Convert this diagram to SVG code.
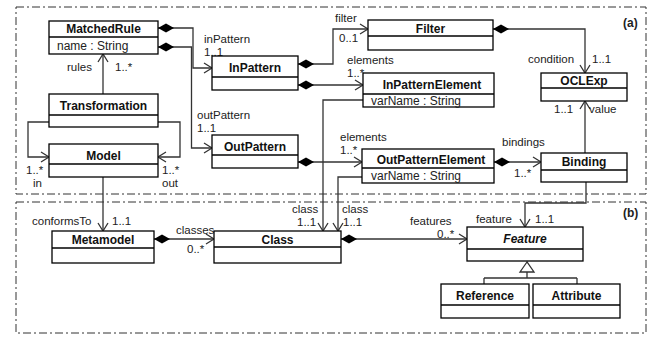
<svg xmlns="http://www.w3.org/2000/svg" width="660" height="339" viewBox="0 0 660 339">
<style>
text{font-family:"Liberation Sans",Arial,sans-serif;font-size:11.5px;fill:#222}
.h{font-size:12px;font-weight:bold;text-anchor:middle;fill:#111}
.a{font-size:12px}
.box{fill:#fff;stroke:#000;stroke-width:1.3}
.div{stroke:#000;stroke-width:1.3}
.frame{fill:none;stroke:#333;stroke-width:1;stroke-dasharray:8 3 2 3}
.c{fill:none;stroke:#333;stroke-width:1.3}
.dia{fill:#000}
.arr{fill:none;stroke:#333;stroke-width:1.3}
</style>
<defs>
<path id="dm" d="M0,0 L-8,-4.5 L-16,0 L-8,4.5 Z"/>
<path id="ah" d="M-8,-5 L0,0 L-8,5"/>
</defs>
<g id="frames">
<rect class="frame" x="16" y="7" width="630" height="187"/>
<rect class="frame" x="16" y="202" width="630" height="131"/>
<text x="623" y="27" style="font-weight:bold;font-size:12px">(a)</text>
<text x="623" y="217" style="font-weight:bold;font-size:12px">(b)</text>
</g>
<g id="connectors">
<!-- MatchedRule -> InPattern -->
<path class="c" d="M158,28 H193 V68 H211"/>
<use href="#dm" class="dia" transform="translate(158,28) rotate(180)"/>
<use href="#ah" class="arr" transform="translate(212,68)"/>
<text x="204" y="43">inPattern</text>
<text x="204" y="56">1..1</text>
<!-- MatchedRule -> OutPattern -->
<path class="c" d="M158,47 H191.5 V148 H211"/>
<use href="#dm" class="dia" transform="translate(158,47) rotate(180)"/>
<use href="#ah" class="arr" transform="translate(212,148)"/>
<text x="197" y="119">outPattern</text>
<text x="197" y="132">1..1</text>
<!-- Transformation -> MatchedRule -->
<path class="c" d="M103,94 V55"/>
<use href="#dm" class="dia" transform="translate(103,94) rotate(-90)"/>
<use href="#ah" class="arr" transform="translate(103,54) rotate(-90)"/>
<text x="67" y="71">rules</text>
<text x="115" y="71">1..*</text>
<!-- Transformation -> Model in/out -->
<path class="c" d="M49,122 H28 V157 H48"/>
<use href="#ah" class="arr" transform="translate(49,157)"/>
<text x="26" y="174">1..*</text>
<text x="33" y="187">in</text>
<path class="c" d="M158,122 H180 V157 H159"/>
<use href="#ah" class="arr" transform="translate(158,157) rotate(180)"/>
<text x="162" y="174">1..*</text>
<text x="162" y="187">out</text>
<!-- Model -> Metamodel -->
<path class="c" d="M103,177 V230"/>
<use href="#ah" class="arr" transform="translate(103,231) rotate(90)"/>
<text x="32" y="225">conformsTo</text>
<text x="112" y="225">1..1</text>
<!-- InPattern -> Filter -->
<path class="c" d="M298,64 H333 V29 H367"/>
<use href="#dm" class="dia" transform="translate(298,64) rotate(180)"/>
<use href="#ah" class="arr" transform="translate(368,29)"/>
<text x="335" y="22">filter</text>
<text x="339" y="42">0..1</text>
<!-- InPattern -> InPatternElement -->
<path class="c" d="M298,85 H362"/>
<use href="#dm" class="dia" transform="translate(298,85) rotate(180)"/>
<use href="#ah" class="arr" transform="translate(363,85)"/>
<text x="347" y="64">elements</text>
<text x="347" y="77">1..*</text>
<!-- OutPattern -> OutPatternElement -->
<path class="c" d="M298,162 H361"/>
<use href="#dm" class="dia" transform="translate(298,162) rotate(180)"/>
<use href="#ah" class="arr" transform="translate(362,162)"/>
<text x="340" y="141">elements</text>
<text x="340" y="154">1..*</text>
<!-- Filter -> OCLExp -->
<path class="c" d="M493,29 H585 V72"/>
<use href="#dm" class="dia" transform="translate(493,29) rotate(180)"/>
<use href="#ah" class="arr" transform="translate(585,73) rotate(90)"/>
<text x="528" y="63">condition</text>
<text x="592" y="63">1..1</text>
<!-- Binding -> OCLExp -->
<path class="c" d="M585,153 V102"/>
<use href="#dm" class="dia" transform="translate(585,153) rotate(-90)"/>
<use href="#ah" class="arr" transform="translate(585,101) rotate(-90)"/>
<text x="554" y="113">1..1</text>
<text x="589" y="113">value</text>
<!-- OutPatternElement -> Binding -->
<path class="c" d="M494,162 H540"/>
<use href="#dm" class="dia" transform="translate(494,162) rotate(180)"/>
<use href="#ah" class="arr" transform="translate(541,162)"/>
<text x="502" y="146">bindings</text>
<text x="514" y="177">1..*</text>
<!-- InPatternElement -> Class -->
<path class="c" d="M363,100 H323 V230"/>
<use href="#ah" class="arr" transform="translate(323,231) rotate(90)"/>
<text x="292" y="213">class</text>
<text x="297" y="226">1..1</text>
<!-- OutPatternElement -> Class -->
<path class="c" d="M362,177 H338 V230"/>
<use href="#ah" class="arr" transform="translate(338,231) rotate(90)"/>
<text x="342" y="213">class</text>
<text x="343" y="226">1..1</text>
<!-- Metamodel -> Class -->
<path class="c" d="M154,239 H213"/>
<use href="#dm" class="dia" transform="translate(154,239) rotate(180)"/>
<use href="#ah" class="arr" transform="translate(214,239)"/>
<text x="176" y="234">classes</text>
<text x="187" y="253">0..*</text>
<!-- Class -> Feature -->
<path class="c" d="M341,239 H466"/>
<use href="#dm" class="dia" transform="translate(341,239) rotate(180)"/>
<use href="#ah" class="arr" transform="translate(467,239)"/>
<text x="410" y="225">features</text>
<text x="437" y="238">0..*</text>
<!-- Binding -> Feature -->
<path class="c" d="M586,182 V203 H525 V226"/>
<use href="#ah" class="arr" transform="translate(525,227) rotate(90)"/>
<text x="476" y="223">feature</text>
<text x="535" y="223">1..1</text>
<!-- Generalization -->
<path class="c" d="M527,272 V278 M484,278 H577 M484,278 V284 M577,278 V284"/>
<path d="M527,262 L520,272 L534,272 Z" fill="#fff" stroke="#333" stroke-width="1.3"/>
</g>
<g id="MatchedRule">
<rect class="box" x="49" y="21" width="109" height="33"/>
<line class="div" x1="49" y1="37" x2="158" y2="37"/>
<text class="h" x="103.5" y="33">MatchedRule</text>
<text class="a" x="57" y="50">name : String</text>
</g>
<g id="Transformation">
<rect class="box" x="49" y="94" width="109" height="33"/>
<line class="div" x1="49" y1="115" x2="158" y2="115"/>
<text class="h" x="103.5" y="110">Transformation</text>
</g>
<g id="Model">
<rect class="box" x="49" y="144" width="109" height="33"/>
<line class="div" x1="49" y1="164" x2="158" y2="164"/>
<text class="h" x="103.5" y="160">Model</text>
</g>
<g id="InPattern">
<rect class="box" x="212" y="56" width="86" height="34"/>
<line class="div" x1="212" y1="77" x2="298" y2="77"/>
<text class="h" x="255" y="72">InPattern</text>
</g>
<g id="OutPattern">
<rect class="box" x="212" y="135" width="86" height="33"/>
<line class="div" x1="212" y1="155" x2="298" y2="155"/>
<text class="h" x="255" y="151">OutPattern</text>
</g>
<g id="Filter">
<rect class="box" x="368" y="20" width="125" height="30"/>
<line class="div" x1="368" y1="36" x2="493" y2="36"/>
<text class="h" x="430.5" y="33">Filter</text>
</g>
<g id="InPatternElement">
<rect class="box" x="363" y="73" width="131" height="34"/>
<line class="div" x1="363" y1="94" x2="494" y2="94"/>
<text class="h" x="432" y="89">InPatternElement</text>
<text class="a" x="371" y="105">varName : String</text>
</g>
<g id="OCLExp">
<rect class="box" x="541" y="73" width="86" height="28"/>
<line class="div" x1="541" y1="88" x2="627" y2="88"/>
<text class="h" x="584" y="85">OCLExp</text>
</g>
<g id="OutPatternElement">
<rect class="box" x="362" y="149" width="132" height="34"/>
<line class="div" x1="362" y1="168" x2="494" y2="168"/>
<text class="h" x="431" y="164">OutPatternElement</text>
<text class="a" x="371" y="180">varName : String</text>
</g>
<g id="Binding">
<rect class="box" x="541" y="153" width="86" height="29"/>
<line class="div" x1="541" y1="170" x2="627" y2="170"/>
<text class="h" x="584" y="166">Binding</text>
</g>
<g id="Metamodel">
<rect class="box" x="52" y="231" width="102" height="32"/>
<line class="div" x1="52" y1="248" x2="154" y2="248"/>
<text class="h" x="103" y="244">Metamodel</text>
</g>
<g id="Class">
<rect class="box" x="214" y="231" width="127" height="32"/>
<line class="div" x1="214" y1="247" x2="341" y2="247"/>
<text class="h" x="277.5" y="244">Class</text>
</g>
<g id="Feature">
<rect class="box" x="467" y="227" width="116" height="34"/>
<line class="div" x1="467" y1="249" x2="583" y2="249"/>
<text class="h" x="525" y="243" style="font-style:italic">Feature</text>
</g>
<g id="Reference">
<rect class="box" x="441" y="284" width="88" height="34"/>
<line class="div" x1="441" y1="305" x2="529" y2="305"/>
<text class="h" x="485" y="300">Reference</text>
</g>
<g id="Attribute">
<rect class="box" x="533" y="284" width="87" height="34"/>
<line class="div" x1="533" y1="305" x2="620" y2="305"/>
<text class="h" x="576.5" y="300">Attribute</text>
</g>
</svg>
